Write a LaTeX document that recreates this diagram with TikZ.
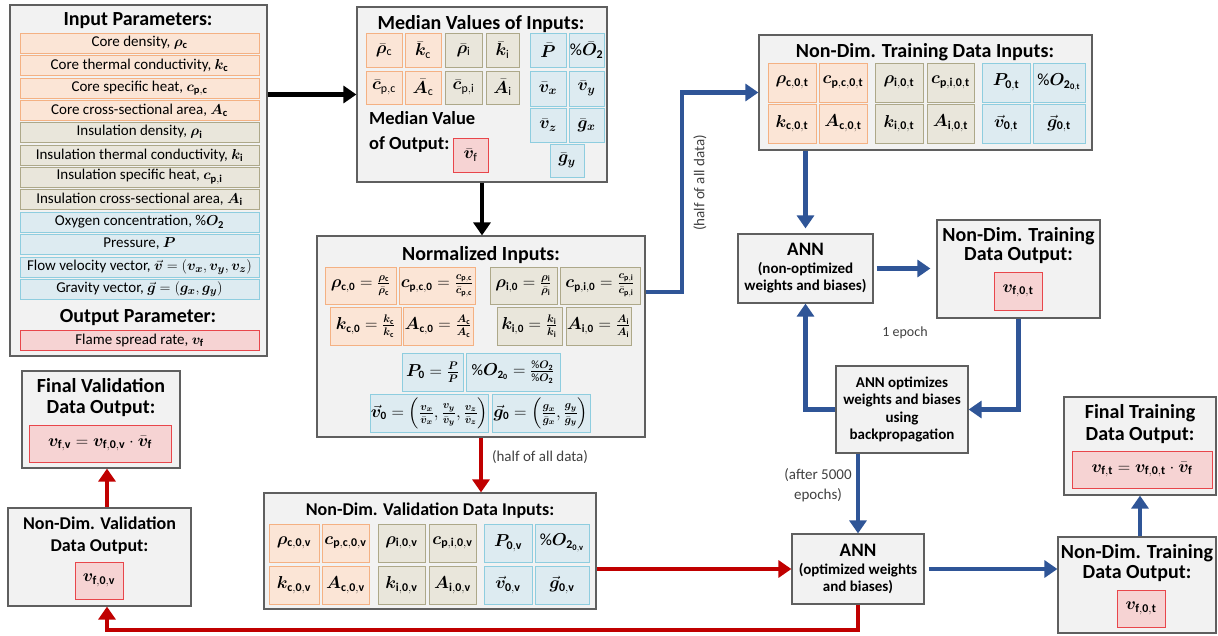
\documentclass[tikz,border=0pt]{standalone}
\usepackage{amsmath}
\usepackage{bm}
\usepackage{fontspec}
\setmainfont{Carlito}
\usetikzlibrary{arrows.meta}
\definecolor{boxF}{HTML}{F2F2F2}
\definecolor{boxD}{HTML}{5F5F5F}
\definecolor{orF}{HTML}{FBE5D6}
\definecolor{orD}{HTML}{F4B183}
\definecolor{tnF}{HTML}{E9E6DB}
\definecolor{tnD}{HTML}{ADA889}
\definecolor{blF}{HTML}{DDEBF1}
\definecolor{blD}{HTML}{8ECDDF}
\definecolor{rdF}{HTML}{F6D3D3}
\definecolor{rdD}{HTML}{E8464B}
\definecolor{bluA}{HTML}{2F5597}
\definecolor{redA}{HTML}{C00000}
\definecolor{lblC}{HTML}{404040}
\newcommand{\bmv}[1]{\boldsymbol{#1}}
\newcommand{\sbf}[1]{\mathbf{#1}}
\newcommand{\vecv}{\vec{\boldsymbol{v}}}
\newcommand{\vecg}{\vec{\boldsymbol{g}}}
\newcommand{\bx}[6]{\node[#1, minimum width={(#4-#2)*1pt}, minimum height={(#5-#3)*1pt}] (#6) at ({(#2+#4)/2},{(#3+#5)/2})}
\tikzset{
 big/.style={draw=boxD, fill=boxF, line width=1.2pt, inner sep=0pt},
 oc/.style={draw=orD, fill=orF, line width=1pt, inner sep=0pt},
 tc/.style={draw=tnD, fill=tnF, line width=1pt, inner sep=0pt},
 bc/.style={draw=blD, fill=blF, line width=1pt, inner sep=0pt},
 rc/.style={draw=rdD, fill=rdF, line width=1pt, inner sep=0pt},
 ttl/.style={font=\bfseries\fontsize{20}{22}\selectfont, inner sep=0pt, align=center},
 ann/.style={font=\bfseries\fontsize{15}{17.5}\selectfont, align=center},
 row/.style={font=\fontsize{15}{17}\selectfont},
 mth/.style={font=\fontsize{17}{19}\selectfont},
 nmth/.style={font=\fontsize{16}{18}\selectfont},
 lbl/.style={font=\fontsize{15}{20}\selectfont, align=center, inner sep=0pt, text=lblC},
 blk/.style={draw=black, line width=4.5pt, -{Triangle[length=13pt,width=17pt]}},
 blu/.style={draw=bluA, line width=4.5pt, -{Triangle[length=13pt,width=17pt]}},
 rdd/.style={draw=redA, line width=4.5pt, -{Triangle[length=13pt,width=17pt]}},
}
\begin{document}
\begin{tikzpicture}[x=1pt,y=-1pt]
\useasboundingbox (0,0) rectangle (1218,635);

% ---------------- Input parameters
\bx{big}{10}{5}{267}{356}{inp} {};
\node[ttl] (tIn) at (138,21) {Input Parameters:};
\bx{oc,row}{20}{33}{259}{53}{r1} {Core density, $\bmv\rho_{\sbf c}$};
\bx{oc,row}{20}{55}{259}{75}{r2} {Core thermal conductivity, $\bmv k_{\sbf c}$};
\bx{oc,row}{20}{78}{259}{98}{r3} {Core specific heat, $\bmv c_{\sbf{p,c}}$};
\bx{oc,row}{20}{100}{259}{120}{r4} {Core cross-sectional area, $\bmv A_{\sbf c}$};
\bx{tc,row}{20}{122}{259}{142}{r5} {Insulation density, $\bmv\rho_{\sbf i}$};
\bx{tc,row}{20}{145}{259}{165}{r6} {Insulation thermal conductivity, $\bmv k_{\sbf i}$};
\bx{tc,row}{20}{167}{259}{187}{r7} {Insulation specific heat, $\bmv c_{\sbf{p,i}}$};
\bx{tc,row}{20}{189}{259}{209}{r8} {Insulation cross-sectional area, $\bmv A_{\sbf i}$};
\bx{bc,row}{20}{212}{259}{232}{r9} {Oxygen concentration, $\%\bmv O_{\sbf 2}$};
\bx{bc,row}{20}{234}{259}{254}{r10} {Pressure, $\bmv P$};
\bx{bc,row}{20}{257}{259}{277}{r11} {Flow velocity vector, $\vecv=(\bmv v_{\bmv x},\bmv v_{\bmv y},\bmv v_{\bmv z})$};
\bx{bc,row}{20}{279}{259}{299}{r12} {Gravity vector, $\vecg=(\bmv g_{\bmv x},\bmv g_{\bmv y})$};
\node[ttl] (tOut) at (138,318) {Output Parameter:};
\bx{rc,row}{20}{330}{259}{350}{r13} {Flame spread rate, $\bmv v_{\sbf f}$};

% ---------------- Median values
\bx{big}{357}{7}{607}{182}{med} {};
\node[ttl] (tMed) at (481,24) {Median Values of Inputs:};
\bx{oc,mth}{366}{33}{402}{67}{m1} {$\bar{\bmv\rho}_{\mathrm c}$};
\bx{oc,mth}{405}{33}{441}{67}{m2} {$\bar{\bmv k}_{\mathrm c}$};
\bx{oc,mth}{366}{71}{402}{104}{m3} {$\bar{\bmv c}_{\mathrm{p,c}}$};
\bx{oc,mth}{405}{71}{441}{104}{m4} {$\bar{\bmv A}_{\mathrm c}$};
\bx{tc,mth}{445}{33}{482}{67}{m5} {$\bar{\bmv\rho}_{\mathrm i}$};
\bx{tc,mth}{486}{33}{519}{67}{m6} {$\bar{\bmv k}_{\mathrm i}$};
\bx{tc,mth}{445}{71}{482}{104}{m7} {$\bar{\bmv c}_{\mathrm{p,i}}$};
\bx{tc,mth}{486}{71}{519}{104}{m8} {$\bar{\bmv A}_{\mathrm i}$};
\bx{bc,mth}{530}{33}{566}{67}{m9} {$\bar{\bmv P}$};
\bx{bc,mth}{569}{33}{604}{67}{m10} {$\%\bar{\bmv O}_{\sbf 2}$};
\bx{bc,mth}{530}{71}{566}{106}{m11} {$\bar{\bmv v}_{\bmv x}$};
\bx{bc,mth}{569}{71}{604}{106}{m12} {$\bar{\bmv v}_{\bmv y}$};
\bx{bc,mth}{530}{108}{566}{142}{m13} {$\bar{\bmv v}_{\bmv z}$};
\bx{bc,mth}{569}{108}{604}{142}{m14} {$\bar{\bmv g}_{\bmv x}$};
\bx{bc,mth}{550}{144}{584}{177}{m15} {$\bar{\bmv g}_{\bmv y}$};
\node[ttl, align=left, anchor=west, font=\bfseries\fontsize{18.5}{25}\selectfont] (tMedO) at (369,132) {Median Value\\of Output:};
\bx{rc,mth}{453}{138}{488}{172}{m16} {$\bar{\bmv v}_{\mathrm f}$};

% ---------------- Normalized inputs
\bx{big}{317}{236}{645}{437}{nrm} {};
\node[ttl] (tNrm) at (481,255) {Normalized Inputs:};
\bx{oc,nmth}{325}{267}{396}{304}{n1} {$\bmv\rho_{\sbf{c,0}} = \frac{\bmv\rho_{\sbf c}}{\bar{\bmv\rho}_{\sbf c}}$};
\bx{oc,nmth}{399}{267}{475}{304}{n2} {$\bmv c_{\sbf{p,c,0}} = \frac{\bmv c_{\sbf{p,c}}}{\bar{\bmv c}_{\sbf{p,c}}}$};
\bx{tc,nmth}{490}{267}{557}{304}{n3} {$\bmv\rho_{\sbf{i,0}} = \frac{\bmv\rho_{\sbf i}}{\bar{\bmv\rho}_{\sbf i}}$};
\bx{tc,nmth}{560}{267}{640}{304}{n4} {$\bmv c_{\sbf{p,i,0}} = \frac{\bmv c_{\sbf{p,i}}}{\bar{\bmv c}_{\sbf{p,i}}}$};
\bx{oc,nmth}{330}{307}{401}{345}{n5} {$\bmv k_{\sbf{c,0}} = \frac{\bmv k_{\sbf c}}{\bar{\bmv k}_{\sbf c}}$};
\bx{oc,nmth}{403}{307}{473}{345}{n6} {$\bmv A_{\sbf{c,0}} = \frac{\bmv A_{\sbf c}}{\bar{\bmv A}_{\sbf c}}$};
\bx{tc,nmth}{497}{307}{562}{345}{n7} {$\bmv k_{\sbf{i,0}} = \frac{\bmv k_{\sbf i}}{\bar{\bmv k}_{\sbf i}}$};
\bx{tc,nmth}{566}{307}{631}{345}{n8} {$\bmv A_{\sbf{i,0}} = \frac{\bmv A_{\sbf i}}{\bar{\bmv A}_{\sbf i}}$};
\bx{bc,nmth}{402}{353}{463}{391}{n9} {$\bmv P_{\sbf 0} = \frac{\bmv P}{\bar{\bmv P}}$};
\bx{bc,nmth}{466}{353}{560}{391}{n10} {$\%\bmv O_{\sbf 2_{\sbf 0}} = \frac{\%\bmv O_{\sbf 2}}{\%\bar{\bmv O}_{\sbf 2}}$};
\bx{bc,nmth}{371}{394}{488}{432}{n11} {$\vecv_{\sbf 0} = \left(\frac{\bmv v_{\bmv x}}{\bar{\bmv v}_{\bmv x}},\frac{\bmv v_{\bmv y}}{\bar{\bmv v}_{\bmv y}},\frac{\bmv v_{\bmv z}}{\bar{\bmv v}_{\bmv z}}\right)$};
\bx{bc,nmth}{492}{394}{590}{432}{n12} {$\vecg_{\sbf 0} = \left(\frac{\bmv g_{\bmv x}}{\bar{\bmv g}_{\bmv x}},\frac{\bmv g_{\bmv y}}{\bar{\bmv g}_{\bmv y}}\right)$};

% ---------------- Validation inputs
\bx{big}{264}{493}{596}{609}{vin} {};
\node[ttl, font=\bfseries\fontsize{18}{20}\selectfont] (tVin) at (430,511) {Non-Dim. Validation Data Inputs:};
\bx{oc,mth}{269}{524}{319}{562}{v1} {$\bmv\rho_{\sbf{c,0,v}}$};
\bx{oc,mth}{322}{524}{369}{562}{v2} {$\bmv c_{\sbf{p,c,0,v}}$};
\bx{tc,mth}{378}{524}{425}{562}{v3} {$\bmv\rho_{\sbf{i,0,v}}$};
\bx{tc,mth}{429}{524}{476}{562}{v4} {$\bmv c_{\sbf{p,i,0,v}}$};
\bx{bc,mth}{484}{524}{532}{562}{v5} {$\bmv P_{\sbf{0,v}}$};
\bx{bc,mth}{535}{524}{589}{562}{v6} {$\%\bmv O_{\sbf 2_{\sbf{0,v}}}$};
\bx{oc,mth}{269}{566}{319}{604}{v7} {$\bmv k_{\sbf{c,0,v}}$};
\bx{oc,mth}{322}{566}{369}{604}{v8} {$\bmv A_{\sbf{c,0,v}}$};
\bx{tc,mth}{378}{566}{425}{604}{v9} {$\bmv k_{\sbf{i,0,v}}$};
\bx{tc,mth}{429}{566}{476}{604}{v10} {$\bmv A_{\sbf{i,0,v}}$};
\bx{bc,mth}{484}{566}{532}{604}{v11} {$\vecv_{\sbf{0,v}}$};
\bx{bc,mth}{535}{566}{589}{604}{v12} {$\vecg_{\sbf{0,v}}$};

% ---------------- Training inputs
\bx{big}{759}{35}{1092}{150}{trn} {};
\node[ttl] (tTrn) at (925,52) {Non-Dim. Training Data Inputs:};
\bx{oc,mth}{768}{63}{816}{102}{t1} {$\bmv\rho_{\sbf{c,0,t}}$};
\bx{oc,mth}{819}{63}{867}{102}{t2} {$\bmv c_{\sbf{p,c,0,t}}$};
\bx{tc,mth}{875}{63}{923}{102}{t3} {$\bmv\rho_{\sbf{i,0,t}}$};
\bx{tc,mth}{927}{63}{974}{102}{t4} {$\bmv c_{\sbf{p,i,0,t}}$};
\bx{bc,mth}{982}{63}{1030}{102}{t5} {$\bmv P_{\sbf{0,t}}$};
\bx{bc,mth}{1033}{63}{1085}{102}{t6} {$\%\bmv O_{\sbf 2_{\sbf{0,t}}}$};
\bx{oc,mth}{768}{104}{816}{143}{t7} {$\bmv k_{\sbf{c,0,t}}$};
\bx{oc,mth}{819}{104}{867}{143}{t8} {$\bmv A_{\sbf{c,0,t}}$};
\bx{tc,mth}{875}{104}{923}{143}{t9} {$\bmv k_{\sbf{i,0,t}}$};
\bx{tc,mth}{927}{104}{974}{143}{t10} {$\bmv A_{\sbf{i,0,t}}$};
\bx{bc,mth}{982}{104}{1030}{143}{t11} {$\vecv_{\sbf{0,t}}$};
\bx{bc,mth}{1033}{104}{1085}{143}{t12} {$\vecg_{\sbf{0,t}}$};

% ---------------- ANN loop
\bx{big,ann}{738}{234}{873}{303}{ann1} {{\fontsize{19}{20}\selectfont ANN}\\(non-optimized\\weights and biases)};
\bx{big}{937}{220}{1100}{318}{nd1} {};
\node[ttl, font=\bfseries\fontsize{20}{19}\selectfont] (tNd1) at (1018.5,246) {Non-Dim. Training\\Data Output:};
\bx{rc,mth}{994}{272}{1042}{310}{nd1c} {$\bmv v_{\sbf{f,0,t}}$};
\bx{big,ann}{836}{366}{968}{453}{opt} {ANN optimizes\\weights and biases\\using\\backpropagation};
\bx{big,ann}{792}{534}{924}{604}{ann2} {{\fontsize{19}{20}\selectfont ANN}\\(optimized weights\\and biases)};

% ---------------- Outputs right
\bx{big}{1064}{397}{1216}{495}{ftr} {};
\node[ttl] (tFtr) at (1140,424) {Final Training\\Data Output:};
\bx{rc,mth}{1072}{451}{1212}{488}{ftrc} {$\bmv v_{\sbf{f,t}} = \bmv v_{\sbf{f,0,t}}\cdot\bar{\bmv v}_{\sbf f}$};
\bx{big}{1058}{537}{1216}{633}{nd2} {};
\node[ttl, font=\bfseries\fontsize{20}{20}\selectfont] (tNd2) at (1137,563) {Non-Dim. Training\\Data Output:};
\bx{rc,mth}{1117}{590}{1165}{627}{nd2c} {$\bmv v_{\sbf{f,0,t}}$};

% ---------------- Outputs left
\bx{big}{22}{371}{180}{468}{fvl} {};
\node[ttl, font=\bfseries\fontsize{20}{21}\selectfont] (tFvl) at (101,397.5) {Final Validation\\Data Output:};
\bx{rc,mth}{29}{425}{171}{462}{fvlc} {$\bmv v_{\sbf{f,v}} = \bmv v_{\sbf{f,0,v}}\cdot\bar{\bmv v}_{\sbf f}$};
\bx{big}{8}{508}{191}{606}{ndv} {};
\node[ttl, font=\bfseries\fontsize{18}{22}\selectfont] (tNdv) at (99.5,536) {Non-Dim. Validation\\Data Output:};
\bx{rc,mth}{75}{562}{123}{599}{ndvc} {$\bmv v_{\sbf{f,0,v}}$};

% ---------------- Connectors
\draw[blk] (inp.east |- med.west) -- (med.west);
\draw[blk] (med.south) -- (med.south |- nrm.north);

\coordinate (b1) at (682,292);
\draw[blu] (nrm.east |- b1) -- (b1) |- (trn.west);
\node[lbl, rotate=90] (lh1) at (700,183) {(half of all data)};

\draw[blu, shorten >=5pt] (ann1.north |- trn.south) -- (ann1.north);
\draw[blu, shorten <=3pt, shorten >=6pt] (ann1.east) -- (nd1.west |- ann1.east);
\draw[blu] (nd1.south) |- (opt.east);
\draw[blu] (opt.west) -| (ann1.south);
\node[lbl, font=\fontsize{14}{16}\selectfont] (l1e) at (905,333) {1 epoch};
\draw[blu] (opt.south -| ann2.north) -- (ann2.north);
\node[lbl] (l5k) at (818,485) {(after 5000\\epochs)};
\draw[blu, shorten <=4pt] (ann2.east) -- (nd2.west |- ann2.east);
\draw[blu] (nd2.north -| ftr.south) -- (ftr.south);

\draw[rdd] (nrm.south) -- (nrm.south |- vin.north);
\node[lbl] (lh2) at (540,457) {(half of all data)};
\draw[rdd] (vin.east |- ann2.west) -- (ann2.west);
\coordinate (rb) at (107,630);
\draw[rdd] (ann2.south) |- (rb) -- (rb |- ndv.south);
\draw[rdd] (rb |- ndv.north) -- (rb |- fvl.south);
\end{tikzpicture}
\end{document}
